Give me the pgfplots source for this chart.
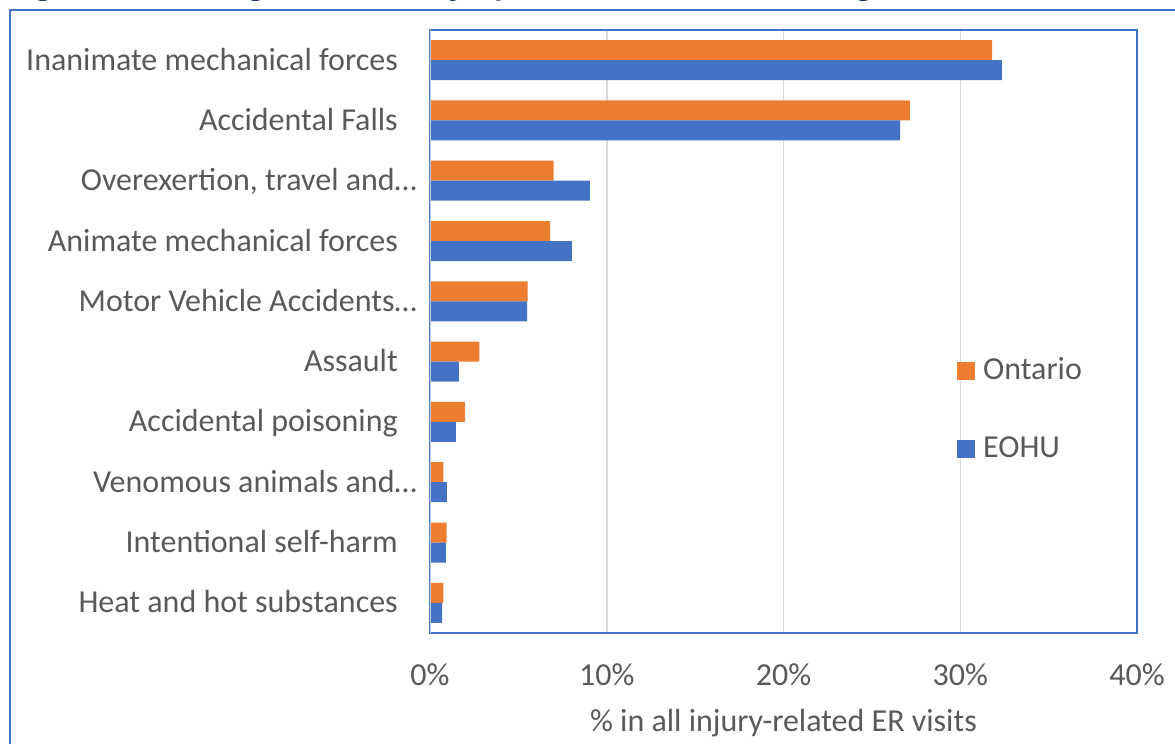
\documentclass[border=0pt]{standalone}
\usepackage{pgfplots}
\pgfplotsset{compat=1.18}
\usepackage{pgfplotstable}
\usepackage{fontspec}
\setmainfont{Carlito}
\definecolor{ontorange}{HTML}{ED7D31}
\definecolor{eohublue}{HTML}{4472C4}
\definecolor{txtgray}{HTML}{595959}
\definecolor{gridgray}{HTML}{D9D9D9}
\definecolor{titleblue}{HTML}{1F3864}
\definecolor{axisleft}{HTML}{BFC9DD}

% pos 10 = top category
\pgfplotstableread{
pos ontario eohu
10 31.80 32.35
9  27.15 26.60
8  7.00  9.05
7  6.80  8.03
6  5.52  5.50
5  2.79  1.64
4  1.98  1.47
3  0.75  0.96
2  0.94  0.90
1  0.75  0.68
}\injurydata

\begin{document}
\begin{tikzpicture}
\node[anchor=base west, inner sep=0pt, text=titleblue,
      font=\fontsize{36bp}{40bp}\selectfont\bfseries]
  at (9bp,748.2bp) {Figure 3: Leading Causes of Injury-Related ER Visits, All Ages, Male, 2019};
\draw[eohublue, line width=2bp] (10bp,-20bp) -- (10bp,734bp) -- (1200bp,734bp);
\begin{axis}[
  at={(430bp,111bp)}, anchor=south west,
  scale only axis, width=707bp, height=603bp,
  xmin=0, xmax=40, ymin=0.5, ymax=10.5,
  xbar, bar width=20bp,
  xtick={0,10,20,30,40},
  xticklabels={0\%,10\%,20\%,30\%,40\%},
  ytick={1,2,3,4,5,6,7,8,9,10},
  yticklabels={
    {Heat and hot substances\hspace*{19bp}},
    {Intentional self-harm\hspace*{19bp}},
    {Venomous animals and…},
    {Accidental poisoning\hspace*{19bp}},
    {Assault\hspace*{19bp}},
    {Motor Vehicle Accidents…},
    {Animate mechanical forces\hspace*{19bp}},
    {Overexertion, travel and…},
    {Accidental Falls\hspace*{19bp}},
    {Inanimate mechanical forces\hspace*{19bp}}},
  major tick length=0pt,
  tick label style={font=\fontsize{32bp}{37bp}\selectfont, text=txtgray, inner sep=0pt},
  yticklabel style={anchor=base east, xshift=-13bp, yshift=-10bp},
  xticklabel style={anchor=base, yshift=-52bp},
  xlabel={\% in all injury-related ER visits},
  xlabel style={font=\fontsize{32bp}{37bp}\selectfont, text=txtgray, inner sep=0pt,
                at={(rel axis cs:0.5,0)}, anchor=base, yshift=-98bp},
  xmajorgrids, grid style={gridgray, line width=1.5bp},
  axis line style={eohublue, line width=1.5bp},
  legend style={at={(rel axis cs:0.7454,0.457)}, anchor=north west, draw=none, fill=none,
                inner sep=0pt, font=\fontsize{32bp}{37bp}\selectfont, text=txtgray,
                nodes={inner sep=0pt, text height=22bp, text depth=8bp},
                row sep=48bp,
                /tikz/every odd column/.append style={column sep=8bp}},
  legend cell align=left,
  legend image code/.code={\fill[#1] (0bp,-7bp) rectangle (18bp,11bp);},
]
\addplot[fill=ontorange, draw=none, bar shift=10bp] table[x=ontario, y=pos] {\injurydata};
\addlegendentry{Ontario}
\addplot[fill=eohublue, draw=none, bar shift=-10bp] table[x=eohu, y=pos] {\injurydata};
\addlegendentry{EOHU}
\draw[axisleft, line width=2bp] (rel axis cs:0,0) -- (rel axis cs:0,1);
\end{axis}
\pgfresetboundingbox
\useasboundingbox (0,0) rectangle (1175bp,744bp);
\end{tikzpicture}
\end{document}
